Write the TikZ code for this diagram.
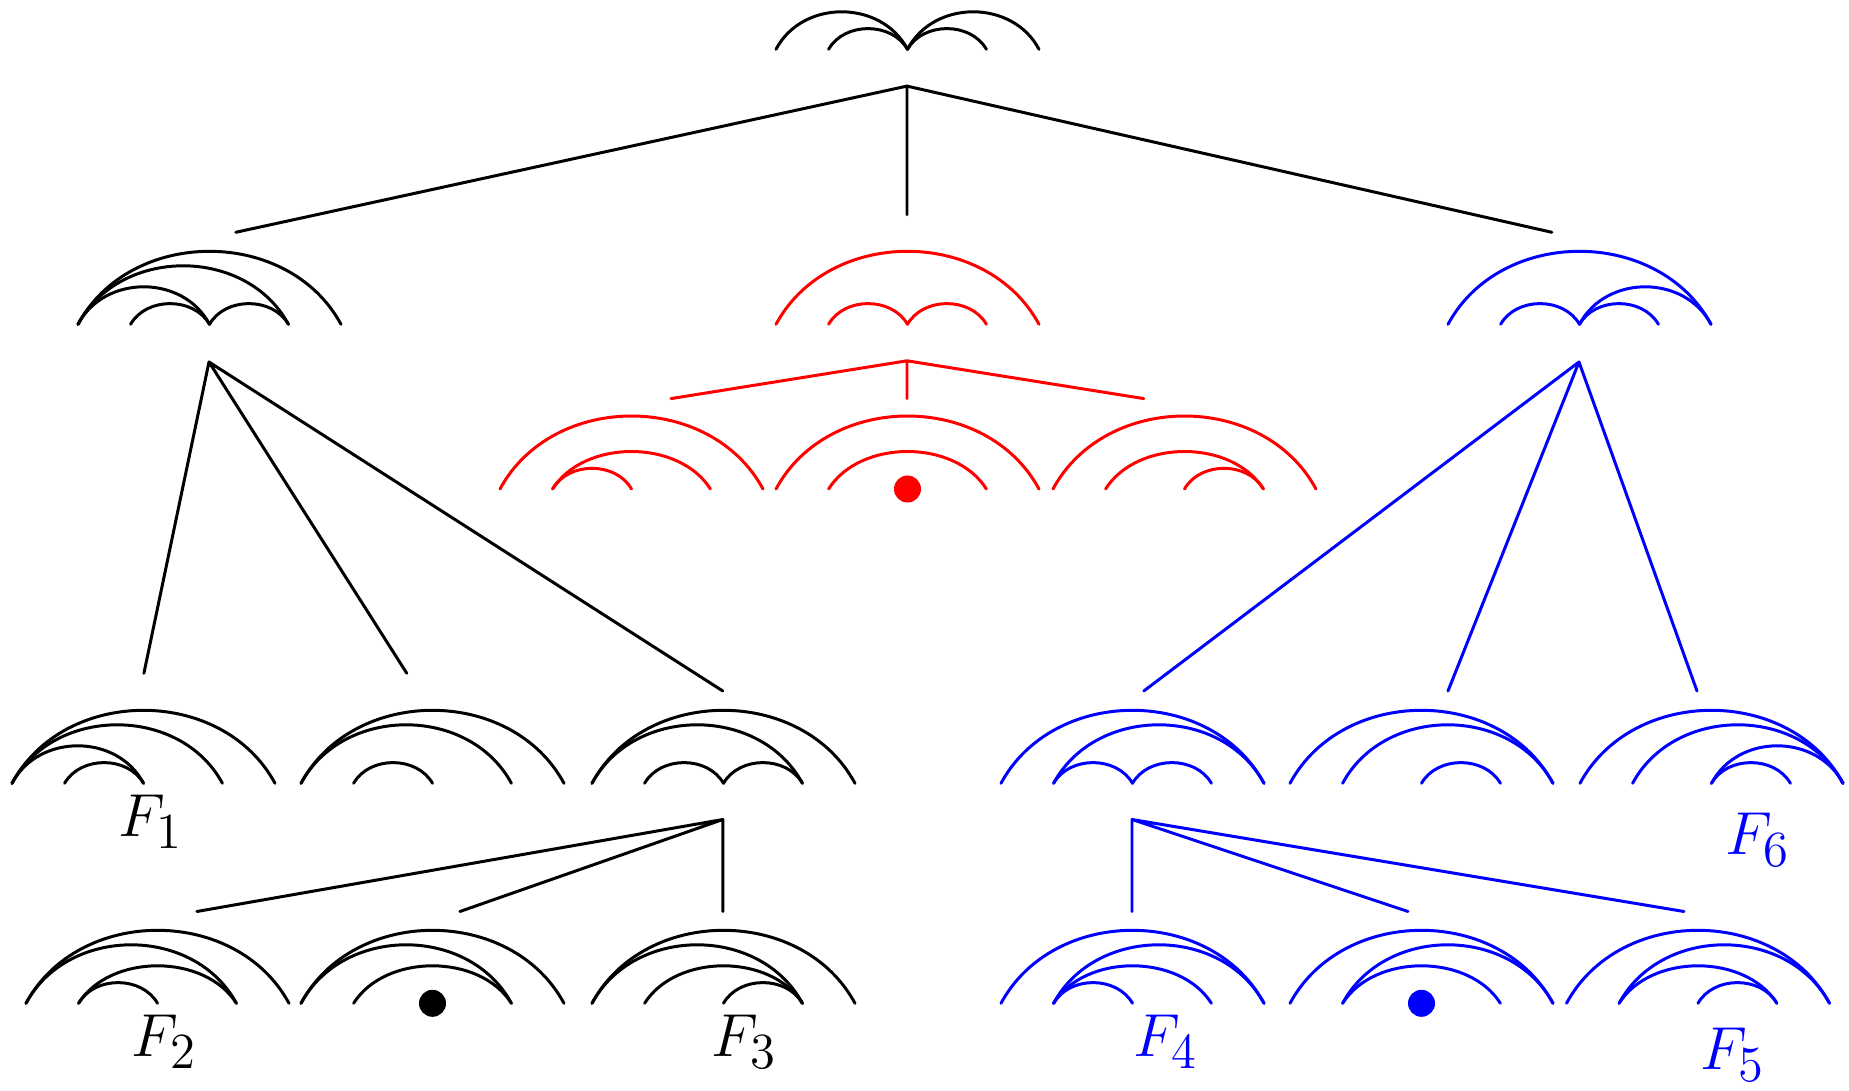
\documentclass[tikz,border=0pt]{standalone}
\begin{document}
\begin{tikzpicture}[line width=0.85pt, line cap=round, line join=round,
  lbl/.style={font=\fontsize{19}{23}\selectfont, inner sep=0pt},
  red/.style={color=red}, blu/.style={color=blue}]
\useasboundingbox (0,0) rectangle (18.49,-10.91);
\def\pA{0}\def\pB{0.526}\def\pC{1.315}\def\pD{2.104}\def\pE{2.63}
\def\hA{0.207}\def\hB{0.375}\def\hC{0.585}\def\hD{0.73}
\newcommand\arcij[3]{\pgfmathsetmacro\myDX{0.2*(#2-#1)}\pgfmathsetmacro\myDY{4/3*#3}%
  \draw (#1,0) .. controls +(\myDX,\myDY) and +(-\myDX,\myDY) .. (#2,0);}
\newcommand\aOE{\arcij{\pA}{\pE}{\hD}}
\newcommand\aOD{\arcij{\pA}{\pD}{\hC}}
\newcommand\aOC{\arcij{\pA}{\pC}{\hB}}
\newcommand\aBC{\arcij{\pB}{\pC}{\hA}}
\newcommand\aCD{\arcij{\pC}{\pD}{\hA}}
\newcommand\aCE{\arcij{\pC}{\pE}{\hB}}
\newcommand\aBD{\arcij{\pB}{\pD}{\hB}}
\newcommand\aBE{\arcij{\pB}{\pE}{\hC}}
\newcommand\dotc{\fill (\pC,0) circle (0.135);}
% top
\begin{scope}[shift={(7.76,-0.493)}] \aOC \aBC \aCD \aCE \end{scope}
% level 2
\begin{scope}[shift={(0.78,-3.243)}] \aOE \aOD \aOC \aBC \aCD \end{scope}
\begin{scope}[shift={(7.76,-3.243)}, red] \aOE \aBC \aCD \end{scope}
\begin{scope}[shift={(14.48,-3.243)}, blu] \aOE \aBC \aCD \aCE \end{scope}
% red row
\begin{scope}[shift={(5.00,-4.89)}, red] \aOE \aBD \aBC \end{scope}
\begin{scope}[shift={(7.76,-4.89)}, red] \aOE \aBD \dotc \end{scope}
\begin{scope}[shift={(10.53,-4.89)}, red] \aOE \aBD \aCD \end{scope}
% black row 3
\begin{scope}[shift={(0.12,-7.833)}] \aOE \aOD \aOC \aBC \end{scope}
\begin{scope}[shift={(3.01,-7.833)}] \aOE \aOD \aBC \end{scope}
\begin{scope}[shift={(5.92,-7.833)}] \aOE \aOD \aBC \aCD \end{scope}
% blue row 3
\begin{scope}[shift={(10.01,-7.833)}, blu] \aOE \aBE \aBC \aCD \end{scope}
\begin{scope}[shift={(12.90,-7.833)}, blu] \aOE \aBE \aCD \end{scope}
\begin{scope}[shift={(15.80,-7.833)}, blu] \aOE \aBE \aCE \aCD \end{scope}
% row 4 black
\begin{scope}[shift={(0.26,-10.033)}] \aOE \aOD \aBD \aBC \end{scope}
\begin{scope}[shift={(3.01,-10.033)}] \aOE \aOD \aBD \dotc \end{scope}
\begin{scope}[shift={(5.92,-10.033)}] \aOE \aOD \aBD \aCD \end{scope}
% row 4 blue
\begin{scope}[shift={(10.01,-10.033)}, blu] \aOE \aBE \aBD \aBC \end{scope}
\begin{scope}[shift={(12.90,-10.033)}, blu] \aOE \aBE \aBD \dotc \end{scope}
\begin{scope}[shift={(15.665,-10.033)}, blu] \aOE \aBE \aBD \aCD \end{scope}
% connector coordinates
\coordinate (v0) at (9.07,-0.861);
\coordinate (e1) at (2.358,-2.323);
\coordinate (e2) at (9.07,-2.146);
\coordinate (e3) at (15.519,-2.323);
\coordinate (vL) at (2.09,-3.62);
\coordinate (eL1) at (1.439,-6.733);
\coordinate (eL2) at (4.068,-6.733);
\coordinate (eL3) at (7.228,-6.91);
\coordinate (vM) at (9.07,-3.608);
\coordinate (eM1) at (6.71,-3.986);
\coordinate (eM2) at (9.07,-3.986);
\coordinate (eM3) at (11.438,-3.986);
\coordinate (vR) at (15.79,-3.62);
\coordinate (eR1) at (11.438,-6.91);
\coordinate (eR2) at (14.48,-6.91);
\coordinate (eR3) at (16.97,-6.91);
\coordinate (vB) at (7.228,-8.195);
\coordinate (eB1) at (1.969,-9.115);
\coordinate (eB2) at (4.599,-9.115);
\coordinate (eB3) at (7.228,-9.115);
\coordinate (vU) at (11.32,-8.195);
\coordinate (eU1) at (11.32,-9.115);
\coordinate (eU2) at (14.08,-9.115);
\coordinate (eU3) at (16.84,-9.115);
\draw (e1) -- (v0) -- (e3) (v0) -- (e2);
\draw (eL1) -- (vL) -- (eL3) (vL) -- (eL2);
\draw[red] (eM1) -- (vM) -- (eM3) (vM) -- (eM2);
\draw[blu] (eR1) -- (vR) -- (eR3) (vR) -- (eR2);
\draw (eB1) -- (vB) -- (eB3) (vB) -- (eB2);
\draw[blu] (eU3) -- (vU) -- (eU1) (vU) -- (eU2);
% labels
\node[lbl] (F1) at (1.51,-8.22) {$F_1$};
\node[lbl] (F2) at (1.645,-10.417) {$F_2$};
\node[lbl] (F3) at (7.445,-10.417) {$F_3$};
\node[lbl, blu] (F4) at (11.66,-10.417) {$F_4$};
\node[lbl, blu] (F5) at (17.33,-10.55) {$F_5$};
\node[lbl, blu] (F6) at (17.58,-8.40) {$F_6$};
\end{tikzpicture}
\end{document}
